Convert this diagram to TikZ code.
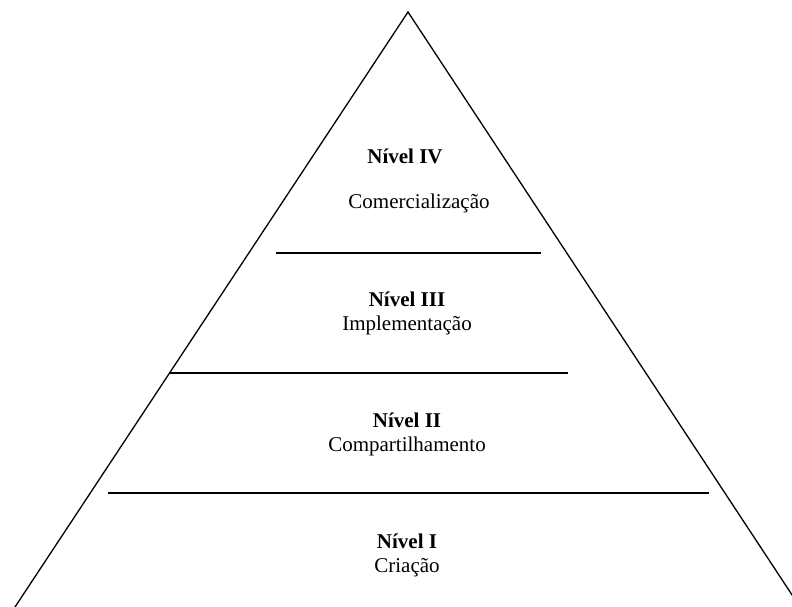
\documentclass[tikz,border=0pt]{standalone}
\usepackage{fontspec}
\setmainfont{Liberation Serif}
\usepackage{tikz}
\usetikzlibrary{positioning}

\begin{document}
\begin{tikzpicture}[x=1pt, y=-1pt,
    nivel/.style={font=\fontsize{21}{24}\selectfont\bfseries, inner sep=0pt, anchor=base},
    etapa/.style={font=\fontsize{21}{24}\selectfont, inner sep=0pt, anchor=base},
    divisa/.style={line width=1.6pt}]
  \useasboundingbox (0,0) rectangle (792,607);
  \begin{scope}
    \clip (0,0) rectangle (792,607);
    % pyramid
    \coordinate (topo) at (408,12);
    \coordinate (esq) at (15,607);
    \coordinate (dir) at (800,607);
    \draw[line width=1.3pt] (esq) -- (topo) -- (dir);
  \end{scope}
  % level separators
  \draw[divisa] (276,253) -- (541,253);
  \draw[divisa] (169,373) -- (568,373);
  \draw[divisa] (108,493) -- (709,493);
  % labels
  \node[nivel] (n4) at (405,163) {Nível IV};
  \node[etapa] (e4) at (419,208) {Comercialização};
  \node[nivel] (n3) at (407,306) {Nível III};
  \node[etapa] (e3) at ([yshift=-24pt]n3.base) {Implementação};
  \node[nivel] (n2) at (407,427) {Nível II};
  \node[etapa] (e2) at ([yshift=-24pt]n2.base) {Compartilhamento};
  \node[nivel] (n1) at (407,548) {Nível I};
  \node[etapa] (e1) at ([yshift=-24pt]n1.base) {Criação};
\end{tikzpicture}
\end{document}
